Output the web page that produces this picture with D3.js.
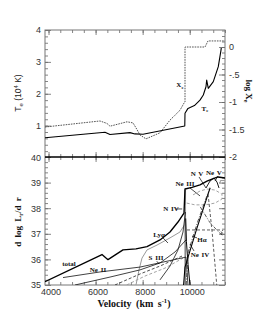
<!DOCTYPE html>
<html><head><meta charset="utf-8">
<script src="https://cdn.jsdelivr.net/npm/d3@7"></script>
<style>
html,body{margin:0;padding:0;background:#fff;}
svg{display:block;}
.tk text{font-family:"Liberation Sans",Arial,sans-serif;font-size:9px;fill:#333;}
.tk line{stroke:#666;stroke-width:0.8;}
.ann{font-family:"Liberation Serif","Times New Roman",serif;font-weight:bold;font-size:7px;fill:#111;}
</style></head>
<body><svg id="c" width="255" height="330"></svg>
<script>
// ---------- DATA ----------
// top panel: electron temperature (10^4 K) vs velocity
const velTe = [3850, 6400, 6612, 7462, 7675, 8015, 9790, 9800, 9927, 10200, 10437, 10578, 10692, 10722, 10790, 11003, 11215, 11330, 11342];
const Te    = [0.62, 0.79, 0.72, 0.78, 0.74, 0.73, 0.99, 1.39, 1.54, 1.63, 1.80, 1.96, 2.22, 2.43, 2.17, 2.38, 2.85, 3.37, 3.44];
// top panel: log electron fraction
const velXe = [3850, 6187, 6485, 6612, 7335, 7590, 7717, 7887, 8142, 8737, 9162, 9587, 9757, 9800, 9800, 10650, 10777, 11500];
const logXe = [-1.455, -1.345, -1.39, -1.44, -1.36, -1.38, -1.47, -1.60, -1.67, -1.56, -1.33, -1.15, -1.02, -1.0, 0.0, 0.0, 0.11, 0.11];

// bottom panel: d log L / d r for lines (velocity, value)
const totalV = [3850, 6272, 6527, 7165, 7717, 8185, 8737, 9162, 9502, 9757, 9800, 10097, 10437, 10735, 10947, 11202, 11500];
const totalL = [35.13, 36.19, 35.99, 36.37, 36.41, 36.50, 36.76, 37.07, 37.46, 37.81, 38.75, 38.81, 38.91, 39.06, 39.14, 39.22, 39.18];
const lyaV = [7717, 7845, 7972, 8185, 8610, 9162, 9587, 9800, 9821];
const lyaL = [35.0, 35.59, 36.05, 36.37, 36.56, 36.84, 37.07, 37.38, 38.13];
const ne2V = [4615, 6187, 7887, 9842, 9927];
const ne2L = [35.29, 35.51, 35.70, 36.09, 35.0];
const s3V = [5125, 6612, 7887, 8737, 9375, 9842];
const s3L = [35.0, 35.31, 35.59, 35.86, 36.29, 36.76];
const n4V = [8737, 9162, 9502, 9715, 9821];
const n4L = [35.20, 35.74, 36.37, 37.07, 37.85];
const ne3V = [9810, 9810];
const ne3L = [35.0, 38.72];
const ne4V = [9830, 9860, 9930, 10010];
const ne4L = [37.6, 36.7, 35.8, 35.0];
const n5V = [9740, 9800, 10300, 10790, 10870];
const n5L = [35.0, 35.7, 37.2, 38.58, 38.8];
const haV = [9850, 9940, 10350, 10720, 10800];
const haL = [35.0, 36.3, 37.5, 38.45, 38.65];
const ne5V = [10692, 10862, 11032, 11160, 11245];
const ne5L = [38.79, 39.06, 39.18, 39.02, 38.79];
const fallV = [10780, 10880, 10960, 11150];
const fallL = [38.55, 37.7, 37.0, 35.0];
const ddV = [10450, 10850, 11250, 11380, 11400];
const ddL = [38.05, 37.45, 37.05, 36.95, 37.15];
const horV = [9885, 11000, 11300, 11350, 11320];
const horL = [37.15, 37.15, 37.15, 37.05, 36.9];
const loopV = [9872, 10225, 10650, 11075, 11372, 11372, 11075, 10735, 10437, 10140];
const loopL = [38.20, 38.13, 38.13, 38.20, 38.36, 38.55, 38.71, 38.75, 38.67, 38.52];
const stepV = [11250, 11300, 11300, 11500];
const stepL = [39.0, 39.0, 39.08, 39.08];
const loDashV = [6825, 7887, 8737, 9672];
const loDashL = [35.0, 35.43, 35.74, 36.13];
const loGrayV = [7322, 8100, 8950, 9715];
const loGrayL = [35.0, 35.35, 35.66, 36.05];

// tick values
const xMajor = [4000, 6000, 8000, 10000];
const xMinor = [4000,4500,5000,5500,6000,6500,7000,7500,8000,8500,9000,9500,10000,10500,11000,11500];
const teMajor = [1, 2, 3, 4];
const teMinor = [0.2,0.4,0.6,0.8,1,1.2,1.4,1.6,1.8,2,2.2,2.4,2.6,2.8,3,3.2,3.4,3.6,3.8,4];
const xeMajor = [0, -0.5, -1, -1.5, -2];
const xeLabels = ["0", "-.5", "-1", "-1.5", "-2"];
const xeMinor = [0.3,0.2,0.1,0,-0.1,-0.2,-0.3,-0.4,-0.5,-0.6,-0.7,-0.8,-0.9,-1,-1.1,-1.2,-1.3,-1.4,-1.5,-1.6,-1.7,-1.8,-1.9,-2];
const lMajor = [35, 36, 37, 38, 39, 40];
const lMinor = [35.2,35.4,35.6,35.8,36,36.2,36.4,36.6,36.8,37,37.2,37.4,37.6,37.8,38,38.2,38.4,38.6,38.8,39,39.2,39.4,39.6,39.8];

// labels: [text, velocity, value]
const bottomLabels = [
  ["total", 4870, 35.82], ["Ne II", 6102, 35.59], ["Lyα", 8695, 36.99], ["S III", 8567, 36.09],
  ["N IV", 9205, 37.97], ["Ne III", 9800, 38.95], ["N V", 10310, 39.34], ["Ne V", 11032, 39.38],
  ["Hα", 10522, 36.76], ["Ne IV", 10437, 36.17]
];
// pointer segments [v1, L1, v2, L2]
const pointers = [
  [9417, 37.97, 9680, 37.97], [10012, 38.79, 10437, 38.48], [10395, 39.22, 10692, 38.79],
  [11202, 39.26, 11075, 39.06], [10310, 36.84, 10097, 36.91], [10182, 36.33, 10012, 36.60],
  [8865, 36.84, 9077, 36.64], [8600, 35.93, 8700, 35.82]
];

// ---------- LAYOUT ----------
const L = 45, R = 225, T1 = 30, M = 157, B2 = 285;
const svg = d3.select("#c");
const x = d3.scaleLinear([3850, 11500], [L, R]);
const yTe = d3.scaleLinear([0, 4], [157.5, T1]);
const yXe = d3.scaleLinear([-2, 0], [M, 47]);
const yL = d3.scaleLinear([35, 40], [B2, M]);

const defs = svg.append("defs");
defs.append("clipPath").attr("id", "cTop").append("rect").attr("x", L).attr("y", T1).attr("width", R - L).attr("height", M - T1);
defs.append("clipPath").attr("id", "cBot").append("rect").attr("x", L).attr("y", M).attr("width", R - L).attr("height", B2 - M);

function axisG(axis, tx, ty) {
  const g = svg.append("g").attr("class", "tk").attr("transform", `translate(${tx},${ty})`).call(axis);
  g.select(".domain").remove();
  return g;
}
// X ticks
[[T1, "top"], [M, "midUp"], [M, "midDown"], [B2, "bottom"]].forEach(([yy, kind]) => {
  const dir = (kind === "top" || kind === "midDown") ? d3.axisTop : d3.axisBottom;
  axisG(dir(x).tickValues(xMinor).tickSize(-3).tickFormat(""), 0, yy);
  const g = axisG(dir(x).tickValues(xMajor).tickSize(-5).tickFormat(kind === "bottom" ? d3.format("d") : "").tickPadding(4), 0, yy);
  if (kind === "bottom") g.selectAll("text").attr("dx", 2);
});
// top left Te
axisG(d3.axisLeft(yTe).tickValues(teMinor).tickSize(-3).tickFormat(""), L, 0);
axisG(d3.axisLeft(yTe).tickValues(teMajor).tickSize(-6).tickFormat(d3.format("d")).tickPadding(4), L, 0);
// top right Xe
axisG(d3.axisRight(yXe).tickValues(xeMinor).tickSize(-3).tickFormat(""), R, 0);
axisG(d3.axisRight(yXe).tickValues(xeMajor).tickSize(-6).tickFormat((d, i) => xeLabels[i]).tickPadding(4), R, 0);
// bottom left/right L
axisG(d3.axisLeft(yL).tickValues(lMinor).tickSize(-3).tickFormat(""), L, 0);
const gl = axisG(d3.axisLeft(yL).tickValues(lMajor).tickSize(-6).tickFormat(d3.format("d")).tickPadding(4), L, 0);
gl.selectAll(".tick").filter(d => d === 40).select("text").attr("dy", "0.4em");
axisG(d3.axisRight(yL).tickValues(lMinor).tickSize(-3).tickFormat(""), R, 0);
axisG(d3.axisRight(yL).tickValues(lMajor.filter(d => d < 40)).tickSize(-6).tickFormat(""), R, 0);

// frame
svg.append("rect").attr("x", L).attr("y", T1).attr("width", R - L).attr("height", B2 - T1)
  .attr("fill", "none").attr("stroke", "#777").attr("stroke-width", 1);
svg.append("line").attr("x1", L).attr("x2", R).attr("y1", M).attr("y2", M).attr("stroke", "#000").attr("stroke-width", 1.3);

// ---------- CURVES ----------
function draw(vs, vals, ys, clip, style) {
  const pts = vs.map((v, i) => [v, vals[i]]);
  const line = d3.line().x(d => x(d[0])).y(d => ys(d[1]));
  svg.append("path").attr("d", line(pts)).attr("clip-path", `url(#${clip})`)
    .attr("fill", "none").attr("stroke", style.c || "#000").attr("stroke-width", style.w || 0.8)
    .attr("stroke-dasharray", style.d || null).attr("stroke-linejoin", "round");
}
draw(velXe, logXe, yXe, "cTop", {c: "#555", w: 1, d: "1.6,1"});
draw(velTe, Te, yTe, "cTop", {c: "#000", w: 1.1});

draw(ne3V, ne3L, yL, "cBot", {c: "#888", w: 1.6});
draw(loopV, loopL, yL, "cBot", {c: "#999", w: 0.9, d: "3,2"});
draw(lyaV, lyaL, yL, "cBot", {c: "#999", w: 1});
draw(loGrayV, loGrayL, yL, "cBot", {c: "#999", w: 0.9, d: "3,2"});
draw(stepV, stepL, yL, "cBot", {c: "#999", w: 1});
draw(loDashV, loDashL, yL, "cBot", {c: "#222", w: 0.8, d: "3,2"});
draw(ne2V, ne2L, yL, "cBot", {c: "#111", w: 0.8});
draw(s3V, s3L, yL, "cBot", {c: "#111", w: 0.8});
draw(n4V, n4L, yL, "cBot", {c: "#111", w: 0.8});
draw(ne4V, ne4L, yL, "cBot", {c: "#000", w: 1});
draw(n5V, n5L, yL, "cBot", {c: "#000", w: 1.1});
draw(haV, haL, yL, "cBot", {c: "#222", w: 0.8, d: "4,1.5,1,1.5"});
draw(fallV, fallL, yL, "cBot", {c: "#333", w: 0.8, d: "3,2"});
draw(ddV, ddL, yL, "cBot", {c: "#333", w: 0.8, d: "4,1.5,1,1.5"});
draw(horV, horL, yL, "cBot", {c: "#333", w: 0.8, d: "3,2"});
draw(ne5V, ne5L, yL, "cBot", {c: "#000", w: 0.9});
draw(totalV, totalL, yL, "cBot", {c: "#000", w: 1.35});

// pointers
pointers.forEach(p => {
  svg.append("line").attr("x1", x(p[0])).attr("y1", yL(p[1])).attr("x2", x(p[2])).attr("y2", yL(p[3]))
    .attr("stroke", "#000").attr("stroke-width", 0.7);
});
// labels
bottomLabels.forEach(l => {
  svg.append("text").attr("class", "ann").attr("x", x(l[1])).attr("y", yL(l[2])).attr("dy", "0.35em")
    .attr("text-anchor", "middle").style("word-spacing", "1px").text(l[0]);
});
function subLabel(txt, sub, px, py) {
  const t = svg.append("text").attr("class", "ann").attr("x", px).attr("y", py).attr("dy", "0.35em").attr("text-anchor", "middle");
  t.append("tspan").text(txt);
  t.append("tspan").attr("font-size", "5px").attr("dy", "1.5").text(sub);
}
subLabel("X", "e", x(9587), yXe(-0.69));
subLabel("T", "e", x(10650), yTe(1.55));

// ---------- AXIS TITLES ----------
const tt = svg.append("text").attr("transform", "translate(21,93) rotate(-90)").attr("text-anchor", "middle")
  .style("font-family", "Liberation Sans, Arial, sans-serif").style("font-size", "8.5px").attr("fill", "#222");
tt.append("tspan").text("T");
tt.append("tspan").attr("font-size", "6px").attr("dy", "2").text("e");
tt.append("tspan").attr("dy", "-2").text(" (10");
tt.append("tspan").attr("font-size", "6px").attr("dy", "-3.5").text("4");
tt.append("tspan").attr("dy", "3.5").text(" K)");

const tl = svg.append("text").attr("transform", "translate(21,222) rotate(-90)").attr("text-anchor", "middle")
  .style("font-family", "Liberation Serif, Times New Roman, serif").style("font-weight", "bold").style("font-size", "9px")
  .style("word-spacing", "2px").attr("fill", "#111");
tl.append("tspan").text("d log L");
tl.append("tspan").attr("font-size", "6px").attr("dy", "2").text("r");
tl.append("tspan").attr("dy", "-2").text("/d r");

const tx = svg.append("text").attr("transform", "translate(246,91) rotate(90)").attr("text-anchor", "middle")
  .style("font-family", "Liberation Serif, Times New Roman, serif").style("font-weight", "bold").style("font-size", "9px").attr("fill", "#111");
tx.append("tspan").text("log X");
tx.append("tspan").attr("font-size", "6px").attr("dy", "2").text("e");

const vt = svg.append("text").attr("x", 134).attr("y", 307).attr("text-anchor", "middle")
  .style("font-family", "Liberation Serif, Times New Roman, serif").style("font-weight", "bold").style("font-size", "10px")
  .style("word-spacing", "2px").attr("fill", "#111");
vt.append("tspan").text("Velocity (km s");
vt.append("tspan").attr("font-size", "6.5px").attr("dy", "-4").text("-1");
vt.append("tspan").attr("dy", "4").text(")");
</script></body></html>
